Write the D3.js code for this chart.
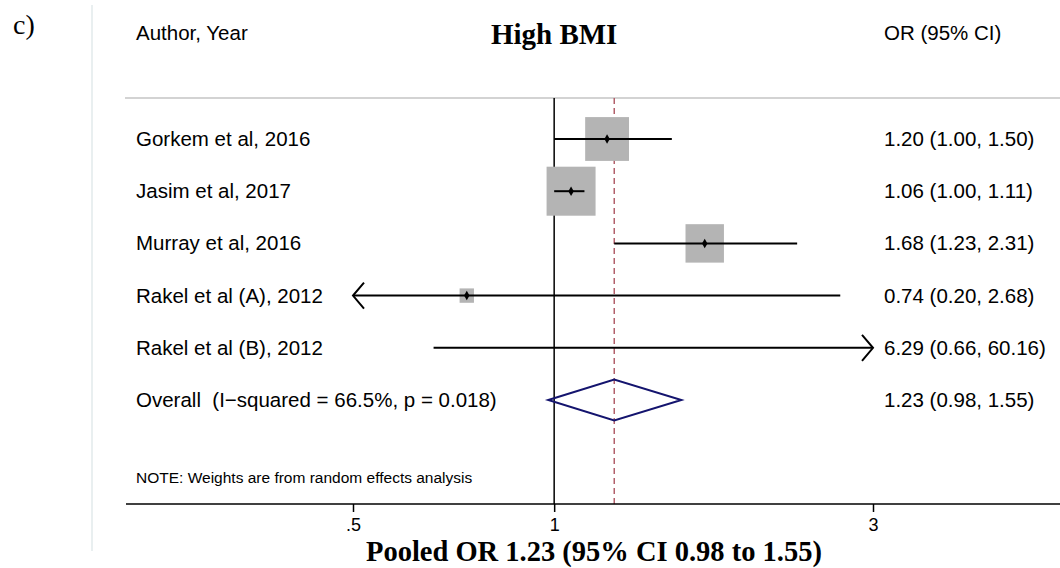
<!DOCTYPE html>
<meta charset="utf-8">
<style>
  body { margin: 0; background: #fff; }
  text { font-family: "Liberation Sans", Arial, Helvetica, sans-serif; fill: #000; }
  .serif { font-family: "Liberation Serif", "Times New Roman", serif; font-weight: bold; }
</style>

<svg width="1060" height="568"></svg>

<script src="https://d3js.org/d3.v7.min.js"></script>
<script>
var studies = ['Gorkem et al, 2016', 'Jasim et al, 2017', 'Murray et al, 2016', 'Rakel et al (A), 2012', 'Rakel et al (B), 2012']
var oddsRatio = [1.20, 1.06, 1.68, 0.74, 6.29]
var lowerCI = [1.00, 1.00, 1.23, 0.20, 0.66]
var upperCI = [1.50, 1.11, 2.31, 2.68, 60.16]
// random effects weights (%)
var weights = [31.6, 39.5, 24.3, 3.4, 1.2]

var overallLabel = 'Overall  (I\u2212squared = 66.5%, p = 0.018)'
var pooled = [1.23, 0.98, 1.55]

var tickValues = [0.5, 1, 3]
var tickLabels = ['.5', '1', '3']

var width = 1060
var height = 568

var svg = d3.select('svg')
svg.attr('width', width).attr('height', height)

var x = d3.scaleLog().domain([0.5, 3]).range([353, 873])
var y = d3.scalePoint().domain(studies.concat([overallLabel])).range([139, 400])
var boxSize = d3.scaleSqrt().domain([0, 39.5]).range([0, 49])
var fmt = d3.format('.2f')

var plotTop = 98
var axisY = 504

// faint frame line on the left
svg.append('line')
  .attr('x1', 92).attr('x2', 92).attr('y1', 5).attr('y2', 551)
  .attr('stroke', '#e2eaeb').attr('stroke-width', 1.5)

svg.append('text').attr('class', 'serif')
  .attr('x', 13).attr('y', 34)
  .style('font-weight', 'normal').style('font-size', '28px')
  .text('c)')

// headers
svg.append('text').attr('x', 136).attr('y', 40).style('font-size', '20.5px').text('Author, Year')
svg.append('text').attr('class', 'serif')
  .attr('x', x(1)).attr('y', 44).attr('text-anchor', 'middle')
  .style('font-size', '29px').text('High BMI')
svg.append('text').attr('x', 884).attr('y', 40).style('font-size', '20.5px').text('OR (95% CI)')

svg.append('line')
  .attr('x1', 125).attr('x2', width).attr('y1', plotTop).attr('y2', plotTop)
  .attr('stroke', '#c4c4c4').attr('stroke-width', 1.5)

// null line and pooled estimate line
svg.append('line')
  .attr('x1', x(1)).attr('x2', x(1)).attr('y1', plotTop).attr('y2', axisY)
  .attr('stroke', '#000').attr('stroke-width', 1.5)

svg.append('line')
  .attr('x1', x(pooled[0])).attr('x2', x(pooled[0])).attr('y1', plotTop).attr('y2', axisY)
  .attr('stroke', '#b2606b').attr('stroke-width', 1.5).attr('stroke-dasharray', '6,4')

var rows = studies.map(function (name, i) {
  return { name: name, or: oddsRatio[i], lo: lowerCI[i], hi: upperCI[i], w: weights[i] }
})

var xMin = x.domain()[0]
var xMax = x.domain()[1]

// weight boxes (only when the estimate is inside the axis)
svg.append('g').selectAll('rect')
  .data(rows.filter(function (d) { return d.or >= xMin && d.or <= xMax }))
  .enter().append('rect')
  .attr('x', function (d) { return x(d.or) - boxSize(d.w) / 2 })
  .attr('y', function (d) { return y(d.name) - boxSize(d.w) / 2 })
  .attr('width', function (d) { return boxSize(d.w) })
  .attr('height', function (d) { return boxSize(d.w) })
  .attr('fill', '#b4b4b4')

// confidence intervals, clipped to the axis with arrows
var ciGroup = svg.append('g').attr('stroke', '#000').attr('stroke-width', 2).attr('fill', 'none')
rows.forEach(function (d) {
  var cy = y(d.name)
  var x0 = x(Math.max(d.lo, xMin))
  var x1 = x(Math.min(d.hi, xMax))
  ciGroup.append('line').attr('x1', x0).attr('x2', x1).attr('y1', cy).attr('y2', cy)
  if (d.lo < xMin) {
    ciGroup.append('path').attr('d', 'M' + (x0 + 11) + ',' + (cy - 13) + 'L' + x0 + ',' + cy + 'L' + (x0 + 11) + ',' + (cy + 13))
  }
  if (d.hi > xMax) {
    ciGroup.append('path').attr('d', 'M' + (x1 - 11) + ',' + (cy - 13) + 'L' + x1 + ',' + cy + 'L' + (x1 - 11) + ',' + (cy + 13))
  }
})

// point estimates
svg.append('g').selectAll('path')
  .data(rows.filter(function (d) { return d.or >= xMin && d.or <= xMax }))
  .enter().append('path')
  .attr('d', d3.symbol().type(d3.symbolDiamond).size(26))
  .attr('transform', function (d) { return 'translate(' + x(d.or) + ',' + y(d.name) + ')' })
  .attr('fill', '#000')

// pooled diamond
var oy = y(overallLabel)
svg.append('path')
  .attr('d', 'M' + x(pooled[1]) + ',' + oy + 'L' + x(pooled[0]) + ',' + (oy - 20.5) +
    'L' + x(pooled[2]) + ',' + oy + 'L' + x(pooled[0]) + ',' + (oy + 20.5) + 'Z')
  .attr('fill', 'none').attr('stroke', '#14146e').attr('stroke-width', 2)

// left labels and right values
svg.append('g').selectAll('text')
  .data(studies.concat([overallLabel]))
  .enter().append('text')
  .attr('x', 136).attr('y', function (d) { return y(d) + 7 })
  .style('font-size', '20.5px').style('white-space', 'pre')
  .text(function (d) { return d })

var values = rows.map(function (d) { return [d.or, d.lo, d.hi] }).concat([pooled])
svg.append('g').selectAll('text')
  .data(values)
  .enter().append('text')
  .attr('x', 884).attr('y', function (d, i) { return y(y.domain()[i]) + 7 })
  .style('font-size', '20.5px')
  .text(function (d) { return fmt(d[0]) + ' (' + fmt(d[1]) + ', ' + fmt(d[2]) + ')' })

svg.append('text').attr('x', 136).attr('y', 483).style('font-size', '15.5px')
  .text('NOTE: Weights are from random effects analysis')

// x axis
svg.append('line')
  .attr('x1', 126).attr('x2', width).attr('y1', axisY).attr('y2', axisY)
  .attr('stroke', '#000').attr('stroke-width', 1.5)

var axis = d3.axisBottom(x).tickValues(tickValues)
  .tickFormat(function (d, i) { return tickLabels[i] })
  .tickSize(8).tickPadding(6)
var axisG = svg.append('g').attr('transform', 'translate(0,' + axisY + ')').call(axis)
axisG.select('.domain').remove()
axisG.selectAll('line').attr('stroke', '#000').attr('stroke-width', 1.5)
axisG.selectAll('text').style('font-size', '18px')
  .style('font-family', '"Liberation Sans", Arial, sans-serif').attr('fill', '#000')

svg.append('text').attr('class', 'serif')
  .attr('x', 594).attr('y', 561).attr('text-anchor', 'middle')
  .style('font-size', '28.5px')
  .text('Pooled OR 1.23 (95% CI 0.98 to 1.55)')
</script>
